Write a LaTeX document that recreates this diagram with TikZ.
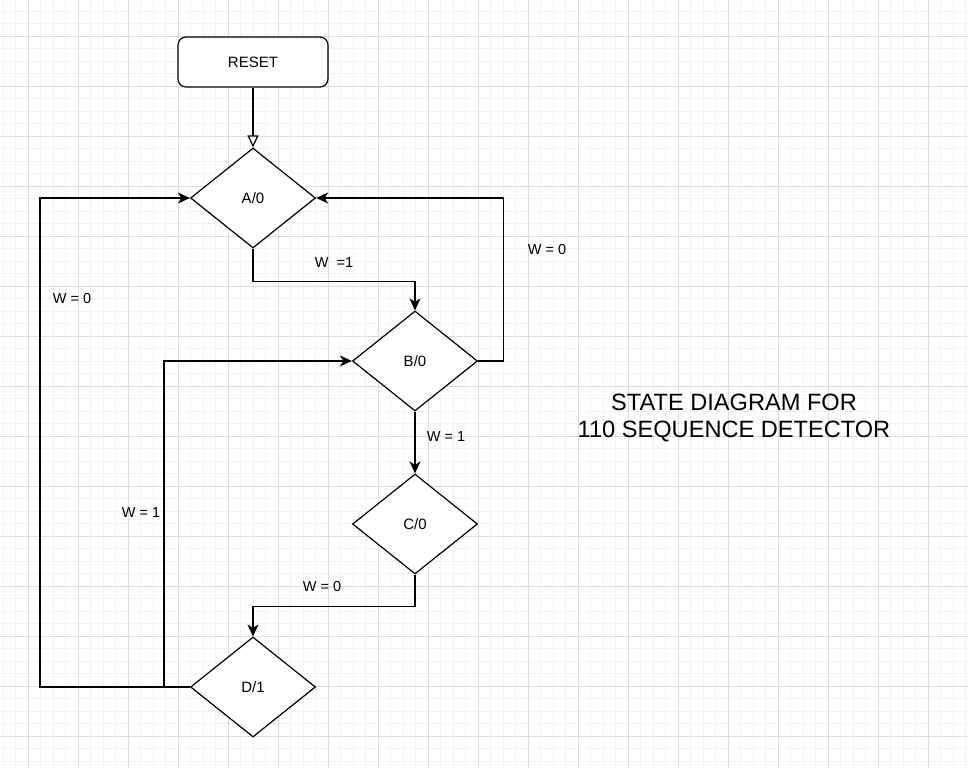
\documentclass[tikz,border=0pt]{standalone}
\usepackage{fontspec}
\setmainfont{Liberation Sans}
\usetikzlibrary{shapes.geometric,arrows.meta}
\definecolor{gridminor}{HTML}{F2F2F2}
\definecolor{gridmajor}{HTML}{DCDCDC}
\begin{document}
\begin{tikzpicture}[x=1pt,y=-1pt,
  state/.style={diamond, draw, line width=1.2pt, fill=white, minimum width=125pt, minimum height=100pt, inner sep=0pt, font=\fontsize{15}{18}\selectfont},
  startbox/.style={draw, rounded corners=8pt, line width=1.2pt, fill=white, minimum width=150pt, minimum height=50pt, inner sep=0pt, font=\fontsize{15}{18}\selectfont},
  lbl/.style={font=\fontsize{14.5}{17}\selectfont, inner sep=0pt},
  conn/.style={line width=1.2pt, -{Stealth[length=12pt,width=11pt,inset=3.5pt]}},
  startconn/.style={line width=1.2pt, -{Triangle[open,length=12pt,width=11pt,fill=white]}}]
\useasboundingbox (0,0) rectangle (968,768);
\fill[white] (0,0) rectangle (968,768);
% grid
\foreach \i in {0,...,77} {\draw[gridminor, line width=0.8pt] ({3+12.5*\i},0) -- ({3+12.5*\i},768);}
\foreach \i in {-1,...,61} {\draw[gridminor, line width=0.8pt] (0,{11+12.5*\i}) -- (968,{11+12.5*\i});}
\foreach \i in {0,...,18} {\draw[gridmajor, line width=0.8pt] ({28+50*\i},0) -- ({28+50*\i},768);}
\foreach \i in {0,...,14} {\draw[gridmajor, line width=0.8pt] (0,{36+50*\i}) -- (968,{36+50*\i});}
% nodes
\node[startbox] (reset) at (253,62) {RESET};
\node[state] (A) at (253,198) {A/0};
\node[state] (B) at (415,361) {B/0};
\node[state] (C) at (415,524) {C/0};
\node[state] (D) at (253,687) {D/1};
% connectors
\draw[startconn] (reset) -- (A);
\draw[conn] (A.south) -- ++(0,33) -| (B.north);
\draw[conn] (B.east) -- ++(25,0) |- (A.east);
\draw[conn] (B.south) -- (C.north);
\draw[conn] (C.south) -- ++(0,32) -| (D.north);
\draw[conn] (D.west) -- ++(-150,0) |- (A.west);
\draw[conn] (D.west) -- ++(-26,0) |- (B.west);
% labels
\node[lbl] (l1) at (334,263) {W\ \ =1};
\node[lbl] (l2) at (547,250) {W = 0};
\node[lbl] (l3) at (446,437) {W = 1};
\node[lbl] (l4) at (322,587) {W = 0};
\node[lbl] (l5) at (72,299) {W = 0};
\node[lbl] (l6) at (141,513) {W = 1};
\node[align=center, font=\fontsize{23.6}{27}\selectfont, inner sep=0pt] (title) at (734,418) {STATE DIAGRAM FOR\\110 SEQUENCE DETECTOR};
\end{tikzpicture}
\end{document}
